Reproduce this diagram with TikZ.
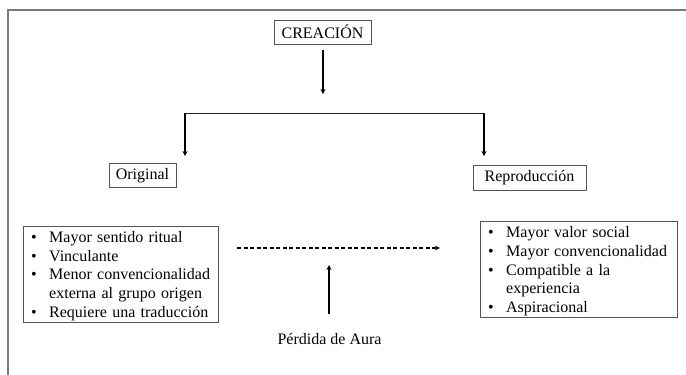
\documentclass[tikz,border=0pt]{standalone}
\usepackage{fontspec}
\setmainfont{Liberation Serif}
\usetikzlibrary{arrows.meta}
\definecolor{framegray}{HTML}{7A7A7A}
\definecolor{boxgray}{HTML}{555555}
\tikzset{
  lbl/.style={draw=boxgray, line width=0.9pt, inner sep=0pt, font=\fontsize{16}{18.7}\selectfont, align=center},
  listbox/.style={draw=boxgray, line width=0.9pt, inner sep=0pt, anchor=north west, font=\fontsize{16}{18.7}\selectfont, align=left},
  listtext/.style={anchor=north west, inner sep=0pt, font=\fontsize{16}{18.7}\selectfont, align=left, text width=190pt},
  arr/.style={line width=1.6pt, -{Stealth[length=5pt,width=5pt]}},
  thin/.style={line width=0.9pt, draw=black!85},
}
\newcommand{\bul}{\makebox[18pt][l]{\textbullet}}
\newcommand{\nobul}{\makebox[18pt][l]{}}
\begin{document}
\begin{tikzpicture}[x=1pt,y=-1pt]
\useasboundingbox (0,0) rectangle (686,375);
% frame
\draw[framegray, line width=1.5pt] (686,10) -- (8,10) -- (8,375);
% nodes
\node[lbl, minimum width=97pt, minimum height=24pt] (crea) at (322.5,32) {CREACIÓN};
\node[lbl, minimum width=67pt, minimum height=24pt] (orig) at (142.5,175.5) {Original};
\node[lbl, minimum width=113pt, minimum height=25pt] (repr) at (529.5,177.5) {Reproducción};
\node[listbox, minimum width=195pt, minimum height=96pt] (lbox) at (23,226) {};
\node[listtext] (ltext) at (31,231)
  {\bul Mayor sentido ritual\\ \bul Vinculante\\ \bul Menor convencionalidad\\ \nobul externa al grupo origen\\ \bul Requiere una traducción};
\node[listbox, minimum width=197pt, minimum height=96pt] (rbox) at (480,221) {};
\node[listtext] (rtext) at (488,226.5)
  {\bul Mayor valor social\\ \bul Mayor convencionalidad\\ \bul Compatible a la\\ \nobul experiencia\\ \bul Aspiracional};
\node[inner sep=0pt, font=\fontsize{16}{18.7}\selectfont] (aura) at (329.5,339) {Pérdida de Aura};
% connectors
\coordinate (c1) at (323,50);
\coordinate (c2) at (323,94);
\draw[arr] (c1) -- (c2);
\coordinate (bl) at (185,113);
\coordinate (br) at (484,113);
\draw[thin] (bl) -- (br);
\coordinate (blt) at (185,156);
\coordinate (brt) at (484,156);
\draw[arr] (bl) -- (blt);
\draw[arr] (br) -- (brt);
\coordinate (d1) at (237,248);
\coordinate (d2) at (440,248);
\draw[line width=1.1pt, dash pattern=on 4pt off 2.5pt, -{Stealth[length=5pt,width=4.5pt]}] (d1) -- (d2);
\coordinate (u1) at (329,314);
\coordinate (u2) at (329,265);
\draw[arr] (u1) -- (u2);
\end{tikzpicture}
\end{document}
